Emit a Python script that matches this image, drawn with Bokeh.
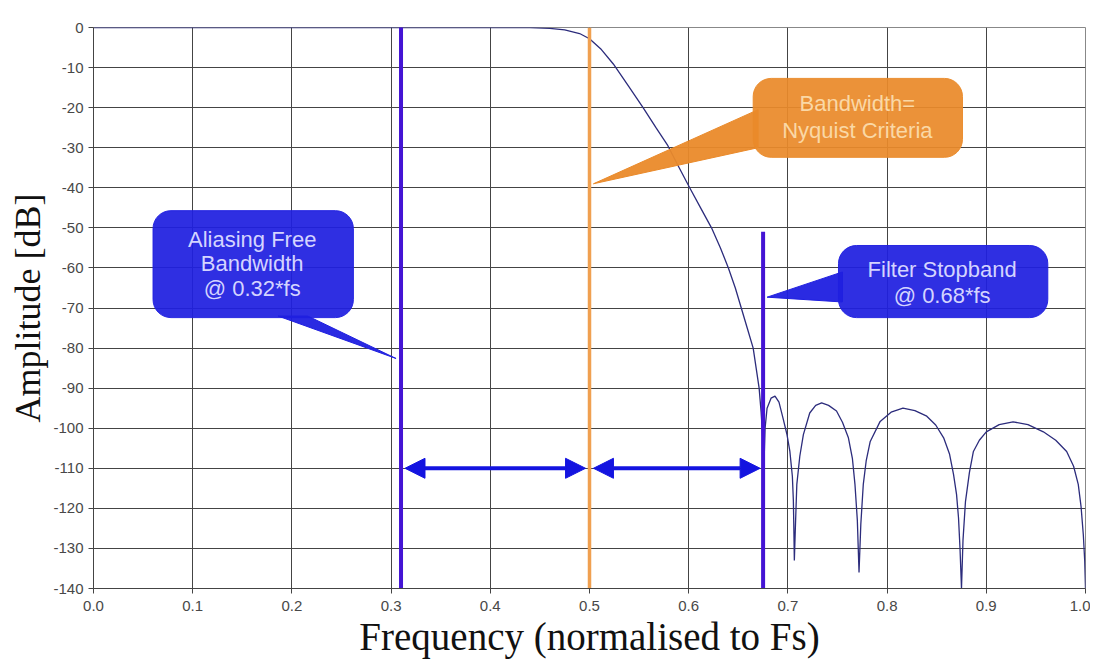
from bokeh.plotting import figure
from bokeh.models import Range1d, BoxAnnotation, Arrow, NormalHead, FixedTicker, NumeralTickFormatter
from bokeh.core.properties import value
from bokeh.embed import file_html
from bokeh.resources import INLINE

# ---- data ----
freq = [0.00, 0.10, 0.20, 0.30, 0.40, 0.44, 0.46, 0.475, 0.49, 0.50, 0.512, 0.524, 0.539,
        0.554, 0.567, 0.579, 0.590, 0.601, 0.612, 0.623, 0.632, 0.640, 0.647, 0.653, 0.659,
        0.665, 0.668, 0.671, 0.673, 0.675, 0.676, 0.677, 0.679, 0.683, 0.687, 0.691, 0.695,
        0.699, 0.702, 0.7045, 0.7055, 0.706, 0.7065, 0.7075, 0.709, 0.712, 0.7156, 0.722,
        0.728, 0.734, 0.741, 0.749, 0.755, 0.761, 0.765, 0.7676, 0.770, 0.7717, 0.7735,
        0.776, 0.779, 0.783, 0.793, 0.804, 0.816, 0.828, 0.840, 0.849, 0.857, 0.863, 0.867,
        0.870, 0.872, 0.8735, 0.875, 0.8765, 0.879, 0.883, 0.887, 0.893, 0.900, 0.913, 0.927,
        0.942, 0.9575, 0.970, 0.981, 0.988, 0.9927, 0.9955, 0.9978, 0.9992, 1.000]
amp = [0, 0, 0, 0, 0, 0, -0.2, -0.6, -1.5, -2.8, -5.5, -9.1, -14.5,
       -20, -25, -29.5, -34.8, -40, -45, -50, -55, -60, -65, -70, -75,
       -80, -85, -90, -96, -104, -108, -100, -95, -92.5, -92, -93.5, -97.4,
       -101.5, -105.8, -112, -118, -125, -133, -125, -114, -107, -101.6, -96.2,
       -94.3, -93.7, -94.3, -95.7, -98.5, -102.4, -107.5, -114, -123, -136, -124,
       -114, -108, -103.3, -98.3, -96, -95, -95.6, -97, -99.2, -102.4, -106.5, -111.6,
       -116.5, -122.4, -130, -140, -128, -118.3, -111, -105.8, -103, -100.9, -99.1, -98.4,
       -99.1, -100.9, -103, -105.8, -109.5, -114, -119.5, -126.6, -133, -140]

x_ticks = [0.0, 0.1, 0.2, 0.3, 0.4, 0.5, 0.6, 0.7, 0.8, 0.9, 1.0]
y_ticks = [0, -10, -20, -30, -40, -50, -60, -70, -80, -90, -100, -110, -120, -130, -140]

alias_freq = 0.31
nyquist_freq = 0.5
stopband_freq = 0.675
stopband_top = -51
span_level = -110

callout_texts = ["Aliasing Free", "Bandwidth", "@ 0.32*fs",
                 "Bandwidth=", "Nyquist Criteria",
                 "Filter Stopband", "@ 0.68*fs"]

# ---- annotation geometry (data coordinates) ----
alias_box = dict(left=0.060, right=0.262, top=-45.7, bottom=-72.4)
alias_tail_x = [0.186, 0.216, 0.305]
alias_tail_y = [-72.0, -72.0, -82.6]
alias_text_x = [0.160, 0.160, 0.160]
alias_text_y = [-52.8, -58.8, -65.2]

nyq_box = dict(left=0.665, right=0.876, top=-12.7, bottom=-32.4)
nyq_tail_x = [0.504, 0.670, 0.670]
nyq_tail_y = [-39.0, -20.5, -30.0]
nyq_text_x = [0.770, 0.770]
nyq_text_y = [-19.0, -25.7]

stop_box = dict(left=0.751, right=0.962, top=-54.4, bottom=-72.4)
stop_tail_x = [0.679, 0.755, 0.755]
stop_tail_y = [-67.3, -61.0, -68.5]
stop_text_x = [0.8555, 0.8555]
stop_text_y = [-60.3, -66.9]

BLUE_BOX = "#1f1fe0"
BLUE_TXT = "#d4d4ff"
ORANGE_BOX = "#ea8a2a"
ORANGE_TXT = "#fad8a6"
LINE_BLUE = "#4414d4"
LINE_ORANGE = "#f0a050"
ARROW_BLUE = "#1414e0"
CURVE = "#2c2c7c"
GRID = "#444444"

p = figure(width=1090, height=662, output_backend="svg", toolbar_location=None,
           x_range=Range1d(0, 1), y_range=Range1d(-140, 0))
p.min_border_left = 93
p.min_border_right = 5
p.min_border_top = 27
p.min_border_bottom = 74
p.outline_line_color = "#888888"
p.background_fill_color = "white"

p.xaxis.ticker = FixedTicker(ticks=x_ticks)
p.yaxis.ticker = FixedTicker(ticks=y_ticks)
p.xaxis.formatter = NumeralTickFormatter(format="0.0")
p.yaxis.formatter = NumeralTickFormatter(format="0")
p.xgrid.ticker = FixedTicker(ticks=x_ticks)
p.ygrid.ticker = FixedTicker(ticks=y_ticks)
p.grid.grid_line_color = GRID
p.grid.grid_line_width = 1

p.xaxis.axis_label = "Frequency (normalised to Fs)"
p.yaxis.axis_label = "Amplitude [dB]"
p.axis.axis_label_text_font = "Liberation Serif"
p.xaxis.axis_label_text_font_size = "39px"
p.yaxis.axis_label_text_font_size = "36px"
p.axis.axis_label_text_font_style = "normal"
p.axis.axis_label_text_color = "#111111"
p.xaxis.axis_label_standoff = 1
p.yaxis.axis_label_standoff = 2
p.axis.major_label_text_font = "Liberation Sans"
p.axis.major_label_text_font_size = "15px"
p.axis.major_label_text_color = "#484848"
p.axis.axis_line_color = "#444444"
p.axis.major_tick_line_color = "#444444"
p.axis.major_tick_in = 0
p.axis.major_tick_out = 5
p.axis.minor_tick_line_color = None
p.xaxis.major_label_standoff = 7
p.yaxis.major_label_standoff = 5

# filter response
p.line(freq, amp, line_color=CURVE, line_width=1.3)

# marker lines
p.segment(x0=[alias_freq], y0=[-140], x1=[alias_freq], y1=[5], line_color=LINE_BLUE, line_width=4)
p.segment(x0=[nyquist_freq], y0=[-140], x1=[nyquist_freq], y1=[0], line_color=LINE_ORANGE, line_width=3.5)
p.segment(x0=[stopband_freq], y0=[-140], x1=[stopband_freq], y1=[stopband_top], line_color=LINE_BLUE, line_width=4)

# double arrows
for xs, xe in [(alias_freq + 0.004, nyquist_freq - 0.004), (nyquist_freq + 0.004, stopband_freq - 0.003)]:
    p.add_layout(Arrow(start=NormalHead(size=20, fill_color=ARROW_BLUE, line_color=ARROW_BLUE),
                       end=NormalHead(size=20, fill_color=ARROW_BLUE, line_color=ARROW_BLUE),
                       x_start=xs, y_start=span_level, x_end=xe, y_end=span_level,
                       line_color=ARROW_BLUE, line_width=4))

# callouts
p.patch(alias_tail_x, alias_tail_y, fill_color=BLUE_BOX, line_color=BLUE_BOX, fill_alpha=0.95)
p.patch(nyq_tail_x, nyq_tail_y, fill_color=ORANGE_BOX, line_color=ORANGE_BOX, fill_alpha=0.95)
p.patch(stop_tail_x, stop_tail_y, fill_color=BLUE_BOX, line_color=BLUE_BOX, fill_alpha=0.95)
for box, col in [(alias_box, BLUE_BOX), (nyq_box, ORANGE_BOX), (stop_box, BLUE_BOX)]:
    p.add_layout(BoxAnnotation(**box, fill_color=col, fill_alpha=0.93, line_color=col,
                               line_alpha=0.93, border_radius=18))

txt_kw = dict(text_font=value("Liberation Sans"), text_font_size=value("22px"),
              text_align="center", text_baseline="middle", level="overlay")
p.text(x=alias_text_x, y=alias_text_y, text=callout_texts[0:3], text_color=BLUE_TXT, **txt_kw)
p.text(x=nyq_text_x, y=nyq_text_y, text=callout_texts[3:5], text_color=ORANGE_TXT, **txt_kw)
p.text(x=stop_text_x, y=stop_text_y, text=callout_texts[5:7], text_color=BLUE_TXT, **txt_kw)

open("out.html", "w").write(file_html(p, INLINE))
